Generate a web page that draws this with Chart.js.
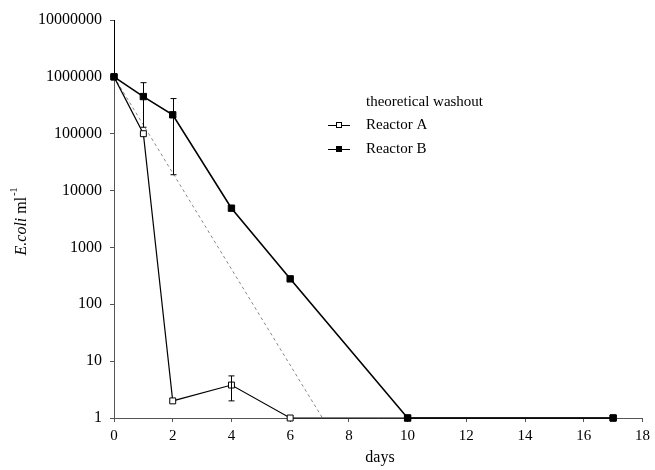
<!DOCTYPE html>
<html>
<head>
<meta charset="utf-8">
<script src="https://cdn.jsdelivr.net/npm/chart.js@4"></script>
<style>
  html, body { margin: 0; padding: 0; background: #fff; }
  #wrap { width: 655px; height: 470px; }
</style>
</head>
<body>
<div id="wrap"><canvas id="chart" width="655" height="470"></canvas></div>
<script>
// data
const days = [0, 1, 2, 4, 6, 10, 17];
const reactorA = [1000000, 100000, 2, 3.8, 1, 1, 1];
const reactorB = [1000000, 450000, 215000, 4900, 280, 1, 1];
const washoutDays = [0, 7.1];
const washoutValues = [1000000, 1];

// error bars: [day, low, high]
const errA = [[4, 2.0, 5.5]];
const errB = [[0, 1000000, 10000000], [1, 130000, 790000], [2, 19000, 415000]];

const yTicks = [1, 10, 100, 1000, 10000, 100000, 1000000, 10000000];

const serif = '"Liberation Serif", "DejaVu Serif", serif';

const toXY = (xs, ys) => xs.map((x, i) => ({ x: x, y: ys[i] }));

// error bars drawn with the chart's scales
const errorBars = {
  id: 'errorBars',
  afterDatasetsDraw(chart) {
    const { ctx, scales: { x, y } } = chart;
    ctx.save();
    ctx.strokeStyle = '#000';
    ctx.lineWidth = 1;
    [...errA, ...errB].forEach(e => {
      const px = Math.round(x.getPixelForValue(e[0])) + 0.5;
      const lo = y.getPixelForValue(e[1]);
      const hi = y.getPixelForValue(e[2]);
      ctx.beginPath();
      ctx.moveTo(px, lo);
      ctx.lineTo(px, hi);
      if (e[0] > 0) {
        ctx.moveTo(px - 3, hi); ctx.lineTo(px + 3, hi);
        ctx.moveTo(px - 3, lo); ctx.lineTo(px + 3, lo);
      }
      ctx.stroke();
    });
    ctx.restore();
  }
};

// axis titles and legend like the original figure
const labels = {
  id: 'labels',
  afterDraw(chart) {
    const ctx = chart.ctx;
    ctx.save();
    ctx.fillStyle = '#000';
    ctx.textBaseline = 'middle';

    // y title: E.coli ml-1
    ctx.translate(22, 222);
    ctx.rotate(-Math.PI / 2);
    ctx.font = 'italic 16px ' + serif;
    const w1 = ctx.measureText('E.coli').width;
    ctx.font = '16px ' + serif;
    const w2 = ctx.measureText(' ml').width;
    ctx.font = '10px ' + serif;
    const w3 = ctx.measureText('-1').width;
    let sx = -(w1 + w2 + w3) / 2;
    ctx.textAlign = 'left';
    ctx.font = 'italic 16px ' + serif;
    ctx.fillText('E.coli', sx, 0);
    ctx.font = '16px ' + serif;
    ctx.fillText(' ml', sx + w1, 0);
    ctx.font = '10px ' + serif;
    ctx.fillText('-1', sx + w1 + w2 + 1, -8);
    ctx.setTransform(1, 0, 0, 1, 0, 0);

    // x title
    ctx.font = '16px ' + serif;
    ctx.textAlign = 'center';
    ctx.fillText('days', 380, 458);

    // legend
    ctx.textAlign = 'left';
    ctx.font = '15px ' + serif;
    ctx.fillText('theoretical washout', 366, 102);
    ctx.fillText('Reactor A', 366, 125);
    ctx.fillText('Reactor B', 366, 149);
    ctx.strokeStyle = '#000';
    ctx.lineWidth = 1.2;
    ctx.beginPath();
    ctx.moveTo(328, 125.5); ctx.lineTo(350, 125.5);
    ctx.moveTo(328, 149.5); ctx.lineTo(350, 149.5);
    ctx.stroke();
    ctx.fillStyle = '#fff';
    ctx.fillRect(336, 122, 6, 6);
    ctx.lineWidth = 1;
    ctx.strokeRect(336.5, 122.5, 5, 5);
    ctx.fillStyle = '#000';
    ctx.fillRect(336, 146, 6, 6);
    ctx.restore();
  }
};

const ctx = document.getElementById('chart').getContext('2d');

new Chart(ctx, {
  type: 'line',
  data: {
    datasets: [
      {
        label: 'Reactor B',
        data: toXY(days, reactorB),
        borderColor: '#000',
        borderWidth: 1.6,
        pointStyle: 'rect',
        pointRadius: 4.5,
        pointBackgroundColor: '#000',
        pointBorderColor: '#000',
        pointBorderWidth: 1,
        tension: 0,
        clip: false,
        order: 0
      },
      {
        label: 'Reactor A',
        data: toXY(days, reactorA),
        borderColor: '#000',
        borderWidth: 1.2,
        pointStyle: 'rect',
        pointRadius: 4.2,
        pointBackgroundColor: '#fff',
        pointBorderColor: '#000',
        pointBorderWidth: 1,
        tension: 0,
        clip: false,
        order: 1
      },
      {
        label: 'theoretical washout',
        data: toXY(washoutDays, washoutValues),
        borderColor: '#888',
        borderWidth: 1,
        borderDash: [3, 3],
        pointRadius: 0,
        tension: 0,
        clip: false,
        order: 2
      }
    ]
  },
  options: {
    responsive: false,
    animation: false,
    layout: { padding: { top: 20, right: 10, left: 0, bottom: 0 } },
    plugins: {
      legend: { display: false },
      tooltip: { enabled: false }
    },
    scales: {
      x: {
        type: 'linear',
        min: 0,
        max: 18,
        afterFit: s => { s.height = 52; },
        ticks: {
          stepSize: 2,
          color: '#000',
          padding: 5,
          font: { family: serif, size: 15 }
        },
        grid: { drawOnChartArea: false, drawTicks: true, tickLength: 4, color: '#555' },
        border: { color: '#555', width: 1 }
      },
      y: {
        type: 'logarithmic',
        min: 1,
        max: 10000000,
        afterFit: s => { s.width = 114; },
        afterBuildTicks: s => { s.ticks = yTicks.map(v => ({ value: v })); },
        ticks: {
          color: '#000',
          padding: 8,
          font: { family: serif, size: 16 },
          callback: v => String(v)
        },
        grid: { drawOnChartArea: false, drawTicks: true, tickLength: 4, color: '#555' },
        border: { color: '#555', width: 1 }
      }
    }
  },
  plugins: [errorBars, labels]
});
</script>
</body>
</html>
